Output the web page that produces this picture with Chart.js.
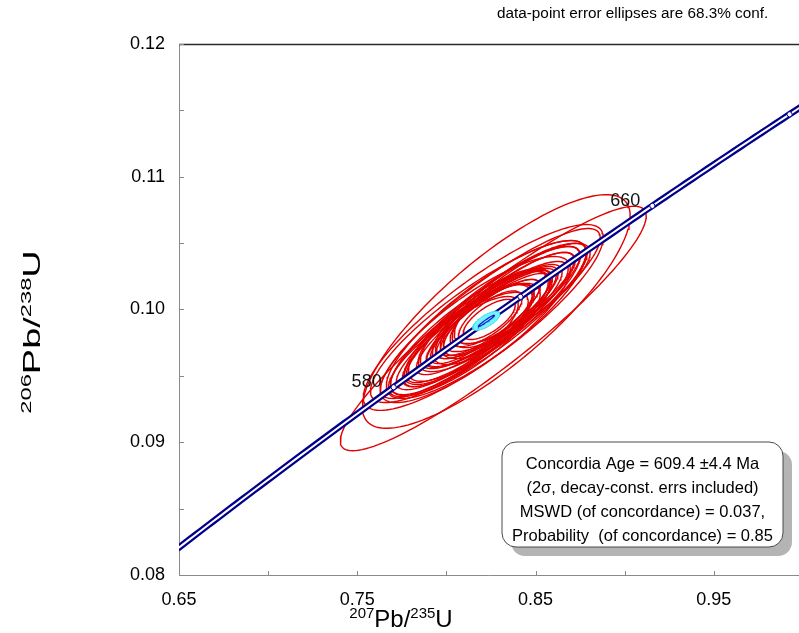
<!DOCTYPE html>
<html>
<head>
<meta charset="utf-8">
<script src="https://cdn.jsdelivr.net/npm/chart.js@4.4.1/dist/chart.umd.min.js"></script>
<style>
  html, body { margin: 0; padding: 0; background: #ffffff; }
  #wrap { width: 799px; height: 633px; position: relative; }
</style>
</head>
<body>
<div id="wrap"><canvas id="c" width="799" height="633"></canvas></div>
<script>
// Decay constants (per year), Steiger & Jäger (1977)
const LAMBDA_235 = 9.8485e-10;
const LAMBDA_238 = 1.55125e-10;

// Axis ranges and labelled ticks
const xRange = [0.65, 0.9978];
const yRange = [0.08, 0.12];
const xTickLabels = ['0.65', '0.75', '0.85', '0.95'];
const yTickLabels = ['0.08', '0.09', '0.10', '0.11', '0.12'];

// Analyses: 207Pb/235U, 206Pb/238U, half-extent of each error ellipse, error correlation
const ellX   = [0.8263, 0.8280, 0.8207, 0.8246, 0.8179, 0.8224, 0.8162, 0.8257, 0.8134, 0.8302,
                0.8190, 0.8123, 0.8330, 0.8078, 0.8369, 0.8235, 0.8257, 0.8235, 0.8218, 0.8246,
                0.8246, 0.8212, 0.8201, 0.8240, 0.8224, 0.8269, 0.8067, 0.8106, 0.8386, 0.8425,
                0.8274, 0.8201, 0.8302, 0.8168];
const ellY   = [0.09857, 0.09985, 0.09940, 0.09970, 0.09909, 0.09925, 0.09849, 0.09955, 0.09834, 0.10015,
                0.09879, 0.09804, 0.10030, 0.09758, 0.10075, 0.09917, 0.09947, 0.09925, 0.09909, 0.09940,
                0.09940, 0.09894, 0.09879, 0.09925, 0.09909, 0.09962, 0.09736, 0.09774, 0.10091, 0.10121,
                0.09962, 0.09887, 0.10000, 0.09864];
const ellSX  = [0.0858, 0.0751, 0.0673, 0.0617, 0.0605, 0.0561, 0.0533, 0.0493, 0.0448, 0.0448,
                0.0404, 0.0364, 0.0392, 0.0325, 0.0348, 0.0348, 0.0370, 0.0252, 0.0308, 0.0280,
                0.0179, 0.0437, 0.0482, 0.0146, 0.0392, 0.0325, 0.0392, 0.0420, 0.0404, 0.0381,
                0.0308, 0.0280, 0.0269, 0.0325];
const ellSY  = [0.00921, 0.00880, 0.00700, 0.00640, 0.00610, 0.00595, 0.00550, 0.00520, 0.00475, 0.00460,
                0.00420, 0.00385, 0.00400, 0.00340, 0.00355, 0.00355, 0.00377, 0.00270, 0.00317, 0.00287,
                0.00200, 0.00445, 0.00483, 0.00151, 0.00400, 0.00332, 0.00393, 0.00423, 0.00408, 0.00377,
                0.00332, 0.00302, 0.00287, 0.00332];
const ellRho = [0.92, 0.82, 0.86, 0.89, 0.86, 0.84, 0.83, 0.86, 0.84, 0.86,
                0.82, 0.83, 0.85, 0.82, 0.84, 0.86, 0.86, 0.77, 0.85, 0.83,
                0.72, 0.87, 0.88, 0.70, 0.87, 0.85, 0.82, 0.81, 0.82, 0.81,
                0.72, 0.70, 0.72, 0.77];

// Concordia age result
const concAge = 609.4;
const concAgeErr = 4.4;
const concAgeSX = 0.0076;
const concAgeSY = 0.00072;
const concAgeRho = 0.72;
const mswd = 0.037;
const probability = 0.85;

// Age ticks on the concordia curve (Ma)
const markerAges = [580, 620, 660, 700];
const labelledAges = [580, 660];

function concordiaPoint(ageMa) {
  const t = ageMa * 1e6;
  return { x: Math.expm1(LAMBDA_235 * t), y: Math.expm1(LAMBDA_238 * t) };
}

function ellipseOutline(cx, cy, sx, sy, rho, n) {
  const pts = [];
  const k = Math.sqrt(1 - rho * rho);
  for (let i = 0; i <= n; i++) {
    const a = (i / n) * 2 * Math.PI;
    pts.push({ x: cx + sx * Math.cos(a), y: cy + sy * (rho * Math.cos(a) + k * Math.sin(a)) });
  }
  return pts;
}

const curve = [];
for (let a = 470; a <= 740; a += 2) curve.push(concordiaPoint(a));

const ageCentre = concordiaPoint(concAge);

const datasets = [];
for (let i = 0; i < ellX.length; i++) {
  datasets.push({
    data: ellipseOutline(ellX[i], ellY[i], ellSX[i], ellSY[i], ellRho[i], 140),
    showLine: true, pointRadius: 0, borderColor: '#e00000', borderWidth: 1.4,
    fill: false, order: 6
  });
}
datasets.push({ data: curve, showLine: true, pointRadius: 0, borderColor: '#00008b', borderWidth: 6.5, order: 5 });
datasets.push({ data: curve, showLine: true, pointRadius: 0, borderColor: '#ffffff', borderWidth: 2, order: 4 });
datasets.push({
  data: ellipseOutline(ageCentre.x, ageCentre.y, concAgeSX, concAgeSY, concAgeRho, 90),
  showLine: true, pointRadius: 0, borderColor: '#40d8e8', borderWidth: 1,
  backgroundColor: '#70f4ff', fill: 'shape', order: 3
});
datasets.push({
  data: ellipseOutline(ageCentre.x, ageCentre.y, concAgeSX * 0.6, concAgeSY * 0.6, 0.97, 60),
  showLine: true, pointRadius: 0, borderColor: '#1a1acc', borderWidth: 1.2, order: 2
});
datasets.push({
  data: markerAges.map(concordiaPoint),
  showLine: false, pointRadius: 2.6, pointBackgroundColor: '#ffffff',
  pointBorderColor: '#00008b', pointBorderWidth: 1, order: 1
});

const FONT = '"Liberation Sans", Arial, sans-serif';
const AXIS_GREY = '#8a8a8a';

function drawRich(ctx, parts, x, y, mainPx, supPx, rise) {
  const fonts = parts.map(p => (p.sup ? supPx : mainPx) + 'px ' + FONT);
  let total = 0;
  const widths = parts.map((p, i) => { ctx.font = fonts[i]; const w = ctx.measureText(p.t).width; total += w; return w; });
  let cx = x - total / 2;
  ctx.textAlign = 'left';
  ctx.textBaseline = 'alphabetic';
  parts.forEach((p, i) => { ctx.font = fonts[i]; ctx.fillText(p.t, cx, p.sup ? y - rise : y); cx += widths[i]; });
}

function roundRect(ctx, x, y, w, h, r) {
  ctx.beginPath();
  ctx.moveTo(x + r, y);
  ctx.arcTo(x + w, y, x + w, y + h, r);
  ctx.arcTo(x + w, y + h, x, y + h, r);
  ctx.arcTo(x, y + h, x, y, r);
  ctx.arcTo(x, y, x + w, y, r);
  ctx.closePath();
}

// Frame: dark top edge and inward tick marks
const framePlugin = {
  id: 'frame',
  afterDraw(chart) {
    const { ctx, chartArea: ca, scales } = chart;
    ctx.save();
    ctx.strokeStyle = '#2a2a2a';
    ctx.lineWidth = 1.3;
    ctx.beginPath();
    ctx.moveTo(ca.left, ca.top + 0.5);
    ctx.lineTo(ca.right, ca.top + 0.5);
    ctx.stroke();
    ctx.strokeStyle = AXIS_GREY;
    ctx.lineWidth = 1;
    ctx.beginPath();
    scales.x.ticks.forEach(t => {
      const px = Math.round(scales.x.getPixelForValue(t.value)) + 0.5;
      ctx.moveTo(px, ca.bottom);
      ctx.lineTo(px, ca.bottom - 4);
    });
    scales.y.ticks.forEach(t => {
      const py = Math.round(scales.y.getPixelForValue(t.value)) + 0.5;
      ctx.moveTo(ca.left, py);
      ctx.lineTo(ca.left + 5, py);
    });
    ctx.stroke();
    ctx.restore();
  }
};

// Text: header, age labels, result box, axis titles
const notesPlugin = {
  id: 'notes',
  afterDraw(chart) {
    const { ctx, scales } = chart;
    ctx.save();
    ctx.fillStyle = '#000000';

    ctx.font = '15.3px ' + FONT;
    ctx.textAlign = 'left';
    ctx.textBaseline = 'alphabetic';
    ctx.fillText('data-point error ellipses are 68.3% conf.', 497, 18);

    ctx.font = '18px ' + FONT;
    ctx.textAlign = 'right';
    labelledAges.forEach(a => {
      const p = concordiaPoint(a);
      const px = scales.x.getPixelForValue(p.x);
      const py = scales.y.getPixelForValue(p.y);
      ctx.fillStyle = '#111111';
      ctx.fillText(String(a), px - 12, py);
    });

    // result box with drop shadow
    const bx = 502, by = 442, bw = 281, bh = 105, br = 14;
    ctx.fillStyle = '#b4b4b4';
    roundRect(ctx, bx + 9, by + 9, bw, bh, br);
    ctx.fill();
    ctx.fillStyle = '#ffffff';
    roundRect(ctx, bx, by, bw, bh, br);
    ctx.fill();
    ctx.strokeStyle = '#4a4a4a';
    ctx.lineWidth = 1;
    ctx.stroke();

    const lines = [
      'Concordia Age = ' + concAge.toFixed(1) + ' \u00b1' + concAgeErr.toFixed(1) + ' Ma',
      '(2\u03c3, decay-const. errs included)',
      'MSWD (of concordance) = ' + mswd.toFixed(3) + ',',
      'Probability  (of concordance) = ' + probability.toFixed(2)
    ];
    ctx.fillStyle = '#000000';
    ctx.font = '16.5px ' + FONT;
    ctx.textAlign = 'center';
    ctx.textBaseline = 'middle';
    const ly = [464, 488, 512, 536];
    lines.forEach((s, i) => ctx.fillText(s, bx + bw / 2, ly[i]));

    // axis titles
    ctx.fillStyle = '#000000';
    drawRich(ctx, [{ t: '207', sup: true }, { t: 'Pb/' }, { t: '235', sup: true }, { t: 'U' }], 401, 627, 24, 15, 9);
    ctx.save();
    ctx.translate(40, 332);
    ctx.rotate(-Math.PI / 2);
    ctx.scale(1.58, 1);
    drawRich(ctx, [{ t: '206', sup: true }, { t: 'Pb/' }, { t: '238', sup: true }, { t: 'U' }], 0, 0, 24, 15, 9);
    ctx.restore();

    ctx.restore();
  }
};

new Chart(document.getElementById('c'), {
  type: 'scatter',
  data: { datasets },
  options: {
    responsive: false,
    animation: false,
    events: [],
    layout: { autoPadding: false, padding: { top: 44, right: 0, left: 0, bottom: 0 } },
    plugins: { legend: { display: false }, tooltip: { enabled: false } },
    elements: { line: { tension: 0 } },
    scales: {
      x: {
        type: 'linear', min: xRange[0], max: xRange[1],
        afterFit(s) { s.height = 58; s.paddingLeft = 0; s.paddingRight = 0; },
        grid: { display: false, drawTicks: false },
        border: { display: true, color: AXIS_GREY, width: 1 },
        ticks: {
          stepSize: 0.05, includeBounds: false, padding: 14, color: '#000000',
          font: { family: FONT, size: 18 }, maxRotation: 0, autoSkip: false,
          callback(v) { const s = v.toFixed(2); return xTickLabels.includes(s) ? s : ''; }
        }
      },
      y: {
        type: 'linear', min: yRange[0], max: yRange[1],
        afterFit(s) { s.width = 179; s.paddingTop = 0; s.paddingBottom = 0; },
        grid: { display: false, drawTicks: false },
        border: { display: true, color: AXIS_GREY, width: 1 },
        ticks: {
          stepSize: 0.005, includeBounds: false, padding: 14, color: '#000000',
          font: { family: FONT, size: 18 }, autoSkip: false,
          callback(v) { const s = v.toFixed(2); return (yTickLabels.includes(s) && Math.abs(v * 100 - Math.round(v * 100)) < 1e-6) ? s : ''; }
        }
      }
    }
  },
  plugins: [framePlugin, notesPlugin]
});
</script>
</body>
</html>
